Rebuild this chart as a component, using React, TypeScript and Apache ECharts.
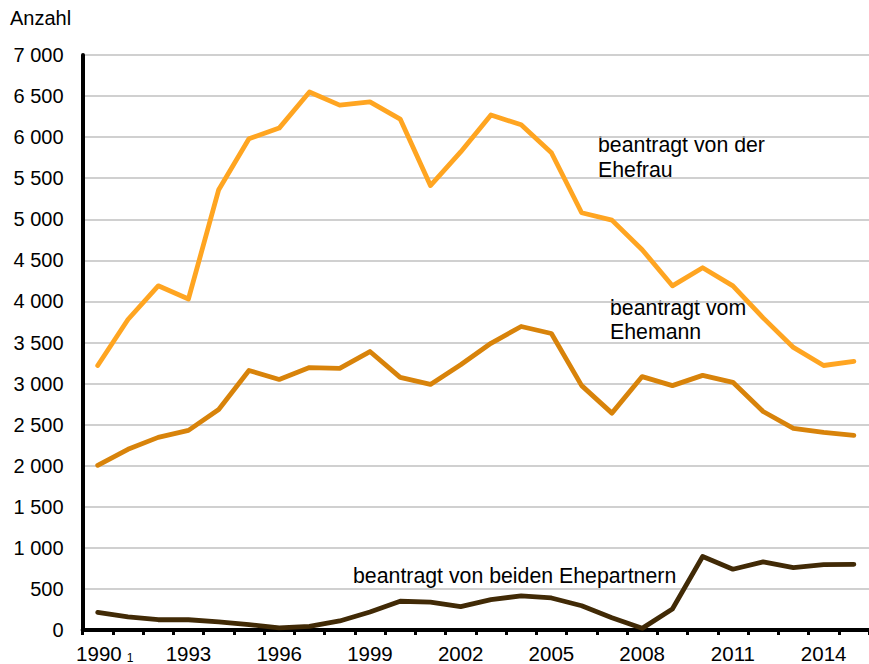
import React, { useEffect, useRef } from "react";
import * as echarts from "echarts";

const years = [
  "1990", "1991", "1992", "1993", "1994", "1995", "1996", "1997", "1998", "1999",
  "2000", "2001", "2002", "2003", "2004", "2005", "2006", "2007", "2008", "2009",
  "2010", "2011", "2012", "2013", "2014", "2015",
];

const ehefrau = [
  3220, 3780, 4190, 4030, 5360, 5980, 6110, 6550, 6390, 6430,
  6220, 5410, 5820, 6270, 6150, 5810, 5080, 4990, 4630, 4190,
  4410, 4190, 3800, 3440, 3220, 3270,
];

const ehemann = [
  2005, 2200, 2345, 2430, 2685, 3160, 3050, 3195, 3185, 3390,
  3075, 2990, 3230, 3490, 3695, 3610, 2975, 2640, 3085, 2975,
  3100, 3015, 2660, 2455, 2405, 2370,
];

const beiden = [
  215, 160, 125, 125, 100, 65, 25, 45, 110, 220,
  350, 340, 285, 370, 415, 390, 295, 150, 20, 255,
  895, 740, 830, 760, 795, 800,
];

const seriesLabels = [
  "beantragt von der\nEhefrau",
  "beantragt vom\nEhemann",
  "beantragt von beiden Ehepartnern",
];

const FONT = "Liberation Sans, Arial, sans-serif";

export default function App() {
  const ref = useRef<HTMLDivElement>(null);

  useEffect(() => {
    if (!ref.current) return;
    const chart = echarts.init(ref.current, undefined, { renderer: "svg" });
    const lineSeries = (data: number[], color: string) => ({
      type: "line",
      data,
      symbol: "none",
      lineStyle: { color, width: 4.8, cap: "round", join: "round" },
      itemStyle: { color },
    });
    chart.setOption({
      animation: false,
      backgroundColor: "#ffffff",
      textStyle: { fontFamily: FONT },
      grid: { left: 82.6, top: 55, bottom: 33, width: 791 },
      xAxis: {
        type: "category",
        data: years,
        boundaryGap: true,
        axisLine: { lineStyle: { color: "#000", width: 4 } },
        axisTick: { show: true, interval: 0, length: 5, lineStyle: { color: "#000", width: 3 } },
        axisLabel: {
          interval: 2,
          margin: 13,
          color: "#000",
          fontSize: 20,
          fontFamily: FONT,
          formatter: (v: string) => (v === "1990" ? "{p|}{a|1990}{s|1}" : "{a|" + v + "}"),
          rich: {
            a: { fontSize: 20.5, fontFamily: FONT, color: "#000" },
            p: { width: 14 },
            s: { fontSize: 12, fontFamily: FONT, color: "#000", padding: [0, 0, 0, 5], verticalAlign: "bottom" },
          },
        },
        splitLine: { show: false },
      },
      yAxis: {
        type: "value",
        min: 0,
        max: 7000,
        interval: 500,
        axisLine: { show: true, lineStyle: { color: "#000", width: 4 } },
        axisTick: { show: false },
        axisLabel: {
          margin: 19,
          color: "#000",
          fontSize: 20,
          fontFamily: FONT,
          formatter: (v: number) => (v >= 1000 ? Math.floor(v / 1000) + " " + String(v % 1000).padStart(3, "0") : String(v)),
        },
        splitLine: { lineStyle: { color: "#c0c0c0", width: 1.5 } },
      },
      series: [
        lineSeries(ehefrau, "#ffa521"),
        lineSeries(ehemann, "#d8830a"),
        lineSeries(beiden, "#412a06"),
      ],
      graphic: [
        { type: "text", left: 10, top: 8, style: { text: "Anzahl", fontSize: 20, fontFamily: FONT, fill: "#000" } },
        { type: "text", left: 598, top: 132, style: { text: seriesLabels[0], fontSize: 21.3, lineHeight: 25, fontFamily: FONT, fill: "#000" } },
        { type: "text", left: 610, top: 296, style: { text: seriesLabels[1], fontSize: 21.3, lineHeight: 24, fontFamily: FONT, fill: "#000" } },
        { type: "text", left: 353, top: 565, style: { text: seriesLabels[2], fontSize: 21.3, fontFamily: FONT, fill: "#000" } },
      ],
    });
    return () => chart.dispose();
  }, []);

  return <div ref={ref} style={{ width: 869, height: 664, position: "absolute", left: 0, top: 0 }} />;
}
